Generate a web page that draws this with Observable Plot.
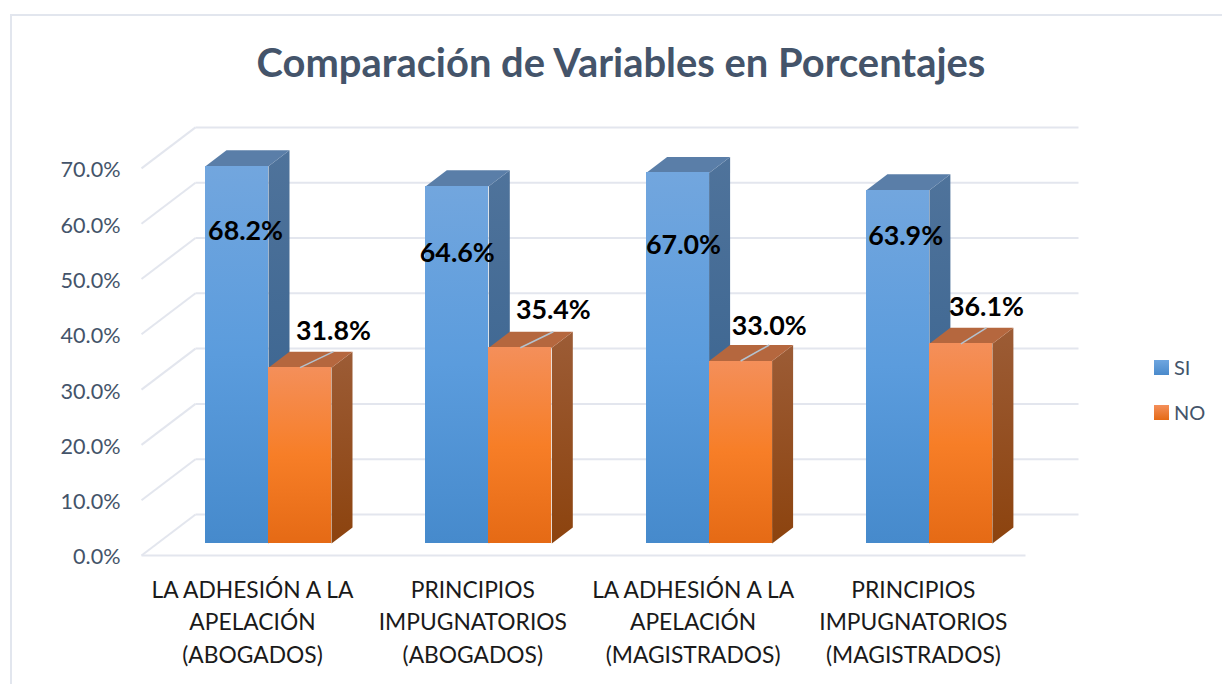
<!DOCTYPE html>
<html><head><meta charset="utf-8">
<script src="https://cdn.jsdelivr.net/npm/d3@7"></script>
<script src="https://cdn.jsdelivr.net/npm/@observablehq/plot@0.6"></script>
<style>
html,body{margin:0;padding:0;background:#fff;width:1222px;height:684px;overflow:hidden}
#frame{position:absolute;left:10px;top:14px;width:1212px;height:670px;border-left:2px solid #e2e6ee;border-top:2px solid #e2e6ee;box-sizing:border-box}
#title{position:absolute;left:0;top:0;width:1242px;height:100px;text-align:center;font:700 39.9px/124px Lato,sans-serif;color:#44546a}
#wrap{position:absolute;left:0;top:100px}
#legend{position:absolute;left:1154px;top:356px;font:20px Lato,sans-serif;color:#44546a}
#legend div{display:flex;align-items:center;height:22px;margin-bottom:23px}
#legend i{display:block;width:15px;height:15px;margin-right:5px}
</style></head><body>
<div id="frame"></div>
<div id="title">Comparación de Variables en Porcentajes</div>
<div id="wrap"></div>
<div id="legend">
<div><i style="background:linear-gradient(#6ea6e0,#4a8acb)"></i>SI</div>
<div><i style="background:linear-gradient(#f48f5a,#e56a15)"></i>NO</div>
</div>
<script>
const categories = ["LA ADHESIÓN A LA\nAPELACIÓN\n(ABOGADOS)","PRINCIPIOS\nIMPUGNATORIOS\n(ABOGADOS)","LA ADHESIÓN A LA\nAPELACIÓN\n(MAGISTRADOS)","PRINCIPIOS\nIMPUGNATORIOS\n(MAGISTRADOS)"];
const si = [68.2,64.6,67.0,63.9];
const no = [31.8,35.4,33.0,36.1];
const yTicks = [0,10,20,30,40,50,60,70];

// pseudo-3D projection, in scale units
const pxPerGroup = 220.3, pxPerPct = 5.53;
const barW = 63/pxPerGroup, depthX = 21/pxPerGroup, depthY = 16/pxPerPct;
const frontY = -12/pxPerPct, backY = 29/pxPerPct;
const frontX = -127/pxPerGroup, backX = -73/pxPerGroup, backEnd = 810/pxPerGroup, frontEnd = 757/pxPerGroup;
// hand-placed data labels (scale units, relative to bar centre / top)
const siNudgeX = [.039,0,.027,.035], siNudgeY = [-11.75,-12.15,-13.1,-8.4];
const noNudgeX = [.152,.15,.13,.116], noNudgeY = [6.5,6.7,6.2,6.6];

const W = 1222, H = 584, mL = 128, mB = 110;
const x0 = 268;      // px of group 0 boundary
const y0 = 443;      // svg px of value 0

function faces(values, left){
  const side=[], top=[], front=[];
  values.forEach((v,i)=>{
    const a=i+left, b=a+barW;
    front.push({i,x1:a,x2:b,y1:0,y2:v});
    [[b,0],[b+depthX,depthY],[b+depthX,v+depthY],[b,v]].forEach(([x,y])=>side.push({id:i,x,y}));
    [[a,v],[b,v],[b+depthX,v+depthY],[a+depthX,v+depthY]].forEach(([x,y])=>top.push({id:i,x,y}));
  });
  return {side,top,front};
}
const fs = faces(si,-barW), fn = faces(no,0);
const poly = (d,fill)=>Plot.line(d,{x:"x",y:"y",z:"id",fill,stroke:"none"});
const rect = (d,fill)=>Plot.rect(d,{x1:"x1",x2:"x2",y1:"y1",y2:"y2",fill,shapeRendering:"crispEdges"});
const gridStyle = {stroke:"#e3e6ee",strokeWidth:2};
const idx = si.map((_,i)=>i);

const chart = Plot.plot({
  width:W,height:H,marginLeft:mL,marginRight:0,marginTop:0,marginBottom:mB,
  style:{background:"transparent",overflow:"visible"},
  x:{type:"linear",domain:[(mL-x0)/pxPerGroup,(W-x0)/pxPerGroup],axis:null},
  y:{type:"linear",domain:[(y0-(H-mB))/pxPerPct,y0/pxPerPct],axis:null},
  marks:[
    Plot.link(yTicks,{x1:backX,x2:backEnd,y1:d=>d+backY,y2:d=>d+backY,...gridStyle}),
    Plot.link(yTicks,{x1:frontX,x2:backX,y1:d=>d+frontY,y2:d=>d+backY,...gridStyle}),
    Plot.link([0],{x1:frontX,x2:frontEnd,y1:frontY,y2:frontY,...gridStyle}),
    poly(fs.side,"url(#siSide)"),poly(fs.top,"url(#siTop)"),rect(fs.front,"url(#siFront)"),
    poly(fn.side,"url(#noSide)"),poly(fn.top,"url(#noTop)"),rect(fn.front,"url(#noFront)"),
    Plot.link(idx,{x1:i=>i+barW/2,y1:i=>no[i],x2:i=>i+barW/2+noNudgeX[i],y2:i=>no[i]+depthY,stroke:"#b4c3d0",strokeWidth:1.5}),
    Plot.text(idx,{x:i=>i-barW/2+siNudgeX[i],y:i=>si[i]+siNudgeY[i],text:i=>si[i].toFixed(1)+"%",fontSize:26.8,fontWeight:700,fontFamily:"Lato, sans-serif",fill:"#000"}),
    Plot.text(idx,{x:i=>i+barW/2+noNudgeX[i],y:i=>no[i]+noNudgeY[i],text:i=>no[i].toFixed(1)+"%",fontSize:26.8,fontWeight:700,fontFamily:"Lato, sans-serif",fill:"#000"}),
    Plot.axisY({ticks:yTicks,tickSize:0,tickPadding:8,dy:14,label:null,tickFormat:d=>d.toFixed(1)+"%",fontSize:21.6,fontFamily:"Lato, sans-serif",color:"#44546a"}),
    Plot.axisX({ticks:idx,tickSize:0,tickPadding:0,dx:-16,label:null,tickFormat:i=>categories[i],fontSize:22.8,fontFamily:"Lato, sans-serif",lineHeight:1.425,color:"#1a1a1a"})
  ]
});
const defs = d3.select(chart).insert("defs",":first-child");
const grads = {siFront:[["0%","#72a6de"],["50%","#5b9cdd"],["100%","#468acc"]],
  noFront:[["0%","#f48f5a"],["50%","#f77e27"],["100%","#e56a15"]],
  siSide:[["0%","#4f739b"],["100%","#335f8c"]],noSide:[["0%","#9c5c36"],["100%","#8c430e"]],
  siTop:[["0%","#5a7ea8"],["100%","#5a7ea8"]],noTop:[["0%","#b5673e"],["100%","#b5673e"]]};
for(const [id,stops] of Object.entries(grads)){
  const g=defs.append("linearGradient").attr("id",id).attr("x1",0).attr("y1",0).attr("x2",0).attr("y2",1);
  stops.forEach(([o,c])=>g.append("stop").attr("offset",o).attr("stop-color",c));
}
document.getElementById("wrap").appendChild(chart);
</script>
</body></html>
